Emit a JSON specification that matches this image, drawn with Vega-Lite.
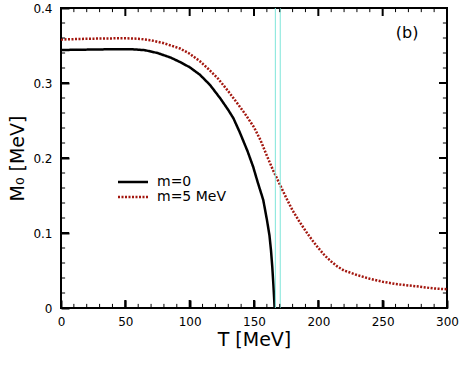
{
  "$schema": "https://vega.github.io/schema/vega-lite/v6.json",
  "width": 386,
  "height": 300,
  "autosize": "none",
  "padding": {"left": 61, "top": 8, "right": 16, "bottom": 63},
  "background": "white",
  "config": {
    "view": {"stroke": "black", "strokeWidth": 2},
    "axis": {"grid": false, "domain": false}
  },
  "datasets": {
    "curves": [
      {"series": "m=0", "T": 0, "M": 0.344},
      {"series": "m=0", "T": 20, "M": 0.3445},
      {"series": "m=0", "T": 40, "M": 0.345},
      {"series": "m=0", "T": 55, "M": 0.345},
      {"series": "m=0", "T": 65, "M": 0.3438},
      {"series": "m=0", "T": 75, "M": 0.340},
      {"series": "m=0", "T": 85, "M": 0.334},
      {"series": "m=0", "T": 92.5, "M": 0.328},
      {"series": "m=0", "T": 100, "M": 0.321},
      {"series": "m=0", "T": 108, "M": 0.311},
      {"series": "m=0", "T": 116, "M": 0.297},
      {"series": "m=0", "T": 124, "M": 0.279},
      {"series": "m=0", "T": 130, "M": 0.264},
      {"series": "m=0", "T": 134, "M": 0.253},
      {"series": "m=0", "T": 139, "M": 0.234},
      {"series": "m=0", "T": 145, "M": 0.209},
      {"series": "m=0", "T": 149.4, "M": 0.188},
      {"series": "m=0", "T": 153, "M": 0.167},
      {"series": "m=0", "T": 157.2, "M": 0.144},
      {"series": "m=0", "T": 160, "M": 0.118},
      {"series": "m=0", "T": 162, "M": 0.097},
      {"series": "m=0", "T": 163.2, "M": 0.077},
      {"series": "m=0", "T": 164.2, "M": 0.055},
      {"series": "m=0", "T": 165.1, "M": 0.030},
      {"series": "m=0", "T": 165.7, "M": 0.011},
      {"series": "m=0", "T": 166, "M": 0},
      {"series": "m=5 MeV", "T": 0, "M": 0.358},
      {"series": "m=5 MeV", "T": 20, "M": 0.359},
      {"series": "m=5 MeV", "T": 40, "M": 0.3595},
      {"series": "m=5 MeV", "T": 50, "M": 0.3597},
      {"series": "m=5 MeV", "T": 60, "M": 0.359},
      {"series": "m=5 MeV", "T": 70, "M": 0.357},
      {"series": "m=5 MeV", "T": 80, "M": 0.353},
      {"series": "m=5 MeV", "T": 92.5, "M": 0.346},
      {"series": "m=5 MeV", "T": 100, "M": 0.339},
      {"series": "m=5 MeV", "T": 108, "M": 0.329},
      {"series": "m=5 MeV", "T": 115, "M": 0.318},
      {"series": "m=5 MeV", "T": 122, "M": 0.306},
      {"series": "m=5 MeV", "T": 130, "M": 0.289},
      {"series": "m=5 MeV", "T": 137, "M": 0.273},
      {"series": "m=5 MeV", "T": 143, "M": 0.259},
      {"series": "m=5 MeV", "T": 150, "M": 0.241},
      {"series": "m=5 MeV", "T": 155, "M": 0.224},
      {"series": "m=5 MeV", "T": 160, "M": 0.203},
      {"series": "m=5 MeV", "T": 165, "M": 0.183},
      {"series": "m=5 MeV", "T": 170, "M": 0.165},
      {"series": "m=5 MeV", "T": 175, "M": 0.147},
      {"series": "m=5 MeV", "T": 180, "M": 0.130},
      {"series": "m=5 MeV", "T": 185, "M": 0.116},
      {"series": "m=5 MeV", "T": 190, "M": 0.103},
      {"series": "m=5 MeV", "T": 195, "M": 0.091},
      {"series": "m=5 MeV", "T": 200, "M": 0.080},
      {"series": "m=5 MeV", "T": 205, "M": 0.070},
      {"series": "m=5 MeV", "T": 210, "M": 0.062},
      {"series": "m=5 MeV", "T": 215, "M": 0.055},
      {"series": "m=5 MeV", "T": 220, "M": 0.050},
      {"series": "m=5 MeV", "T": 230, "M": 0.044},
      {"series": "m=5 MeV", "T": 240, "M": 0.039},
      {"series": "m=5 MeV", "T": 250, "M": 0.035},
      {"series": "m=5 MeV", "T": 260, "M": 0.032},
      {"series": "m=5 MeV", "T": 276, "M": 0.029},
      {"series": "m=5 MeV", "T": 290, "M": 0.026},
      {"series": "m=5 MeV", "T": 300, "M": 0.025}
    ],
    "vlines": [
      {"T": 166.6},
      {"T": 170.4}
    ],
    "labels": [
      {"T": 269, "M": 0.367, "text": "(b)"}
    ],
    "xmajor": [{"T": 50}, {"T": 100}, {"T": 150}, {"T": 200}, {"T": 250}],
    "xminor": [{"T": 10}, {"T": 20}, {"T": 30}, {"T": 40}, {"T": 60}, {"T": 70}, {"T": 80}, {"T": 90}, {"T": 110}, {"T": 120}, {"T": 130}, {"T": 140}, {"T": 160}, {"T": 170}, {"T": 180}, {"T": 190}, {"T": 210}, {"T": 220}, {"T": 230}, {"T": 240}, {"T": 260}, {"T": 270}, {"T": 280}, {"T": 290}],
    "ymajor": [{"M": 0.1}, {"M": 0.2}, {"M": 0.3}],
    "yminor": [{"M": 0.02}, {"M": 0.04}, {"M": 0.06}, {"M": 0.08}, {"M": 0.12}, {"M": 0.14}, {"M": 0.16}, {"M": 0.18}, {"M": 0.22}, {"M": 0.24}, {"M": 0.26}, {"M": 0.28}, {"M": 0.32}, {"M": 0.34}, {"M": 0.36}, {"M": 0.38}]
  },
  "layer": [
    {
      "data": {"name": "curves"},
      "mark": {"type": "line", "strokeWidth": 2.5, "clip": true},
      "encoding": {
        "x": {
          "field": "T", "type": "quantitative",
          "scale": {"domain": [0, 300], "nice": false},
          "axis": {
            "orient": "bottom", "values": [0, 50, 100, 150, 200, 250, 300],
            "tickSize": -8, "tickWidth": 2, "tickColor": "#000000",
            "labelPadding": 16, "labelFont": "DejaVu Sans", "labelFontSize": 12,
            "labelColor": "black", "labelFlush": false,
            "title": "T [MeV]", "titleFont": "DejaVu Sans", "titleFontSize": 19,
            "titleFontWeight": "normal", "titleColor": "black", "titlePadding": 3
          }
        },
        "y": {
          "field": "M", "type": "quantitative",
          "scale": {"domain": [0, 0.4], "nice": false},
          "axis": {
            "orient": "left", "values": [0, 0.1, 0.2, 0.3, 0.4],
            "labelExpr": "datum.value == 0 ? '0' : format(datum.value, '.1f')",
            "tickSize": -8, "tickWidth": 2, "tickColor": "#000000",
            "labelPadding": 17, "labelFont": "DejaVu Sans", "labelFontSize": 12,
            "labelColor": "black", "labelFlush": false,
            "title": "M₀ [MeV]", "titleFont": "DejaVu Sans", "titleFontSize": 19,
            "titleFontWeight": "normal", "titleColor": "black", "titlePadding": 5
          }
        },
        "color": {
          "field": "series", "type": "nominal",
          "scale": {"domain": ["m=0", "m=5 MeV"], "range": ["#000000", "#a3170f"]},
          "legend": {
            "orient": "none", "legendX": 65, "legendY": 167, "title": null, "padding": 0,
            "symbolType": "M-4,0H4", "symbolSize": 56.25, "symbolStrokeWidth": 2.5,
            "labelFont": "DejaVu Sans", "labelFontSize": 14, "labelColor": "black",
            "labelOffset": 17, "rowPadding": 1
          }
        },
        "strokeDash": {
          "field": "series", "type": "nominal",
          "scale": {"domain": ["m=0", "m=5 MeV"], "range": [[1, 0], [2, 1.5]]},
          "legend": {
            "orient": "none", "legendX": 65, "legendY": 167, "title": null, "padding": 0,
            "symbolType": "M-4,0H4", "symbolSize": 56.25, "symbolStrokeWidth": 2.5,
            "labelFont": "DejaVu Sans", "labelFontSize": 14, "labelColor": "black",
            "labelOffset": 17, "rowPadding": 1
          }
        }
      }
    },
    {
      "data": {"name": "vlines"},
      "mark": {"type": "rule", "color": "#7fe6da", "strokeWidth": 1},
      "encoding": {
        "x": {"field": "T", "type": "quantitative", "scale": {"domain": [0, 300], "nice": false}, "axis": null},
        "y": {"datum": 0, "type": "quantitative", "scale": {"domain": [0, 0.4], "nice": false}, "axis": null},
        "y2": {"datum": 0.4}
      }
    },
    {
      "data": {"name": "labels"},
      "mark": {"type": "text", "font": "DejaVu Sans", "fontSize": 16, "color": "black"},
      "encoding": {
        "text": {"field": "text"},
        "x": {"field": "T", "type": "quantitative", "scale": {"domain": [0, 300], "nice": false}, "axis": null},
        "y": {"field": "M", "type": "quantitative", "scale": {"domain": [0, 0.4], "nice": false}, "axis": null}
      }
    },
    {
      "data": {"name": "xmajor"},
      "mark": {"type": "rule", "color": "black", "strokeWidth": 2},
      "encoding": {
        "x": {"field": "T", "type": "quantitative", "scale": {"domain": [0, 300], "nice": false}, "axis": null},
        "y": {"datum": 0, "type": "quantitative", "scale": {"domain": [0, 0.4], "nice": false}, "axis": null},
        "y2": {"datum": 0.0107}
      }
    },
    {
      "data": {"name": "xmajor"},
      "mark": {"type": "rule", "color": "black", "strokeWidth": 2},
      "encoding": {
        "x": {"field": "T", "type": "quantitative", "scale": {"domain": [0, 300], "nice": false}, "axis": null},
        "y": {"datum": 0.4, "type": "quantitative", "scale": {"domain": [0, 0.4], "nice": false}, "axis": null},
        "y2": {"datum": 0.3893}
      }
    },
    {
      "data": {"name": "xminor"},
      "mark": {"type": "rule", "color": "black", "strokeWidth": 1},
      "encoding": {
        "x": {"field": "T", "type": "quantitative", "scale": {"domain": [0, 300], "nice": false}, "axis": null},
        "y": {"datum": 0, "type": "quantitative", "scale": {"domain": [0, 0.4], "nice": false}, "axis": null},
        "y2": {"datum": 0.0055}
      }
    },
    {
      "data": {"name": "xminor"},
      "mark": {"type": "rule", "color": "black", "strokeWidth": 1},
      "encoding": {
        "x": {"field": "T", "type": "quantitative", "scale": {"domain": [0, 300], "nice": false}, "axis": null},
        "y": {"datum": 0.4, "type": "quantitative", "scale": {"domain": [0, 0.4], "nice": false}, "axis": null},
        "y2": {"datum": 0.3945}
      }
    },
    {
      "data": {"name": "ymajor"},
      "mark": {"type": "rule", "color": "black", "strokeWidth": 2},
      "encoding": {
        "y": {"field": "M", "type": "quantitative", "scale": {"domain": [0, 0.4], "nice": false}, "axis": null},
        "x": {"datum": 0, "type": "quantitative", "scale": {"domain": [0, 300], "nice": false}, "axis": null},
        "x2": {"datum": 6.2}
      }
    },
    {
      "data": {"name": "ymajor"},
      "mark": {"type": "rule", "color": "black", "strokeWidth": 2},
      "encoding": {
        "y": {"field": "M", "type": "quantitative", "scale": {"domain": [0, 0.4], "nice": false}, "axis": null},
        "x": {"datum": 300, "type": "quantitative", "scale": {"domain": [0, 300], "nice": false}, "axis": null},
        "x2": {"datum": 293.8}
      }
    },
    {
      "data": {"name": "yminor"},
      "mark": {"type": "rule", "color": "black", "strokeWidth": 1},
      "encoding": {
        "y": {"field": "M", "type": "quantitative", "scale": {"domain": [0, 0.4], "nice": false}, "axis": null},
        "x": {"datum": 0, "type": "quantitative", "scale": {"domain": [0, 300], "nice": false}, "axis": null},
        "x2": {"datum": 3.2}
      }
    },
    {
      "data": {"name": "yminor"},
      "mark": {"type": "rule", "color": "black", "strokeWidth": 1},
      "encoding": {
        "y": {"field": "M", "type": "quantitative", "scale": {"domain": [0, 0.4], "nice": false}, "axis": null},
        "x": {"datum": 300, "type": "quantitative", "scale": {"domain": [0, 300], "nice": false}, "axis": null},
        "x2": {"datum": 296.8}
      }
    }
  ],
  "resolve": {
    "scale": {"x": "independent", "y": "independent"},
    "axis": {"x": "independent", "y": "independent"}
  }
}
